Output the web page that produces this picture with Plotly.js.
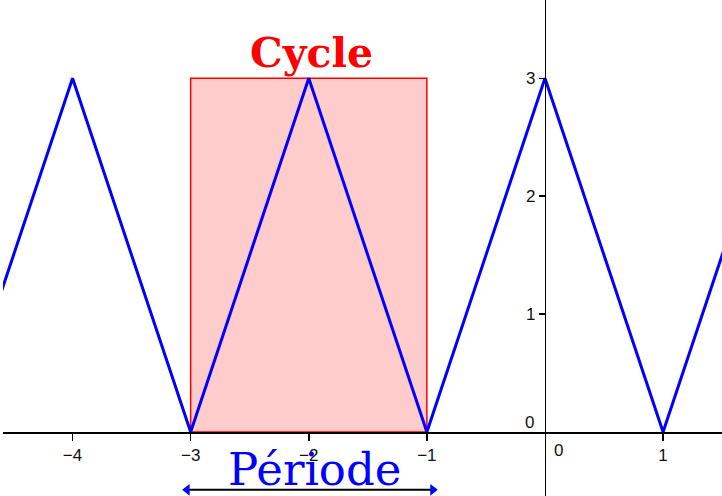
<!DOCTYPE html>
<html><head><meta charset="utf-8">
<script src="https://cdn.plot.ly/plotly-3.0.1.min.js"></script>
<style>html,body{margin:0;padding:0;background:#fff}#c{width:722px;height:496px}</style>
</head><body><div id="c"></div>
<script>
// Triangle wave vertices
const waveX = [-5, -4, -3, -2, -1, 0, 1, 2];
const waveY = [0, 3, 0, 3, 0, 3, 0, 3];
// One cycle rectangle
const cycleStart = -3, cycleEnd = -1, cycleHeight = 3;
// Period arrow
const periodStart = -3.03, periodEnd = -0.95, periodY = -0.49;
// Ticks
const xTicks = [-4, -3, -2, -1, 1];
const xTickText = ['\u22124', '\u22123', '\u22122', '\u22121', '1'];
const yTicks = [1, 2, 3];
const yTickText = ['1', '2', '3'];

const xRange = [-4.589, 1.499];
const yRange = [-0.542, 3.664];

const traces = [
  {x: [cycleStart, cycleEnd, cycleEnd, cycleStart, cycleStart],
   y: [0, 0, cycleHeight, cycleHeight, 0],
   mode: 'lines', fill: 'toself', fillcolor: 'rgba(255,0,0,0.2)',
   line: {color: '#ff0000', width: 1.5}, hoverinfo: 'skip'},
  {x: waveX, y: waveY, mode: 'lines', line: {color: '#0000ff', width: 3}, hoverinfo: 'skip'},
  {x: [periodStart, periodEnd], y: [periodY, periodY], mode: 'lines+markers',
   line: {color: '#000', width: 2},
   marker: {symbol: ['triangle-left', 'triangle-right'], color: '#0000ff', size: 10}, hoverinfo: 'skip'}
];

const y0frac = (0 - yRange[0]) / (yRange[1] - yRange[0]);
const x0frac = (0 - xRange[0]) / (xRange[1] - xRange[0]);
const tickFont = {family: 'Liberation Sans', size: 17, color: '#111'};

const layout = {
  width: 722, height: 496,
  margin: {l: 3, r: 0, t: 0, b: 0},
  paper_bgcolor: '#fff', plot_bgcolor: '#fff',
  showlegend: false,
  font: tickFont,
  xaxis: {range: xRange, anchor: 'free', position: y0frac, showgrid: false, zeroline: false,
    showline: true, linecolor: '#000', linewidth: 1.5, ticks: 'outside', ticklen: 7, tickwidth: 1.5,
    tickcolor: '#000', tickvals: xTicks, ticktext: xTickText, tickfont: tickFont, fixedrange: true},
  yaxis: {range: yRange, anchor: 'free', position: x0frac, showgrid: false, zeroline: false,
    showline: true, linecolor: '#000', linewidth: 1.5, ticks: 'outside', ticklen: 6, tickwidth: 1.5,
    tickcolor: '#000', tickvals: yTicks, ticktext: yTickText, tickfont: tickFont, fixedrange: true},
  annotations: [
    {x: 0, y: 0, text: '0', showarrow: false, xshift: 14, yshift: -18, font: tickFont},
    {x: 0, y: 0, text: '0', showarrow: false, xshift: -15, yshift: 10, font: tickFont},
    {x: (cycleStart + cycleEnd) / 2, y: cycleHeight, yshift: 25, xshift: 3, text: '<b>Cycle</b>', showarrow: false,
     font: {family: 'DejaVu Serif', size: 41, color: '#ff0000'}},
    {x: (cycleStart + cycleEnd) / 2, y: periodY, yshift: 20, xshift: 6, text: 'Période', showarrow: false,
     font: {family: 'DejaVu Serif', size: 45, color: '#0000ff'}}
  ]
};
Plotly.newPlot('c', traces, layout, {displayModeBar: false, staticPlot: true});
</script></body></html>
